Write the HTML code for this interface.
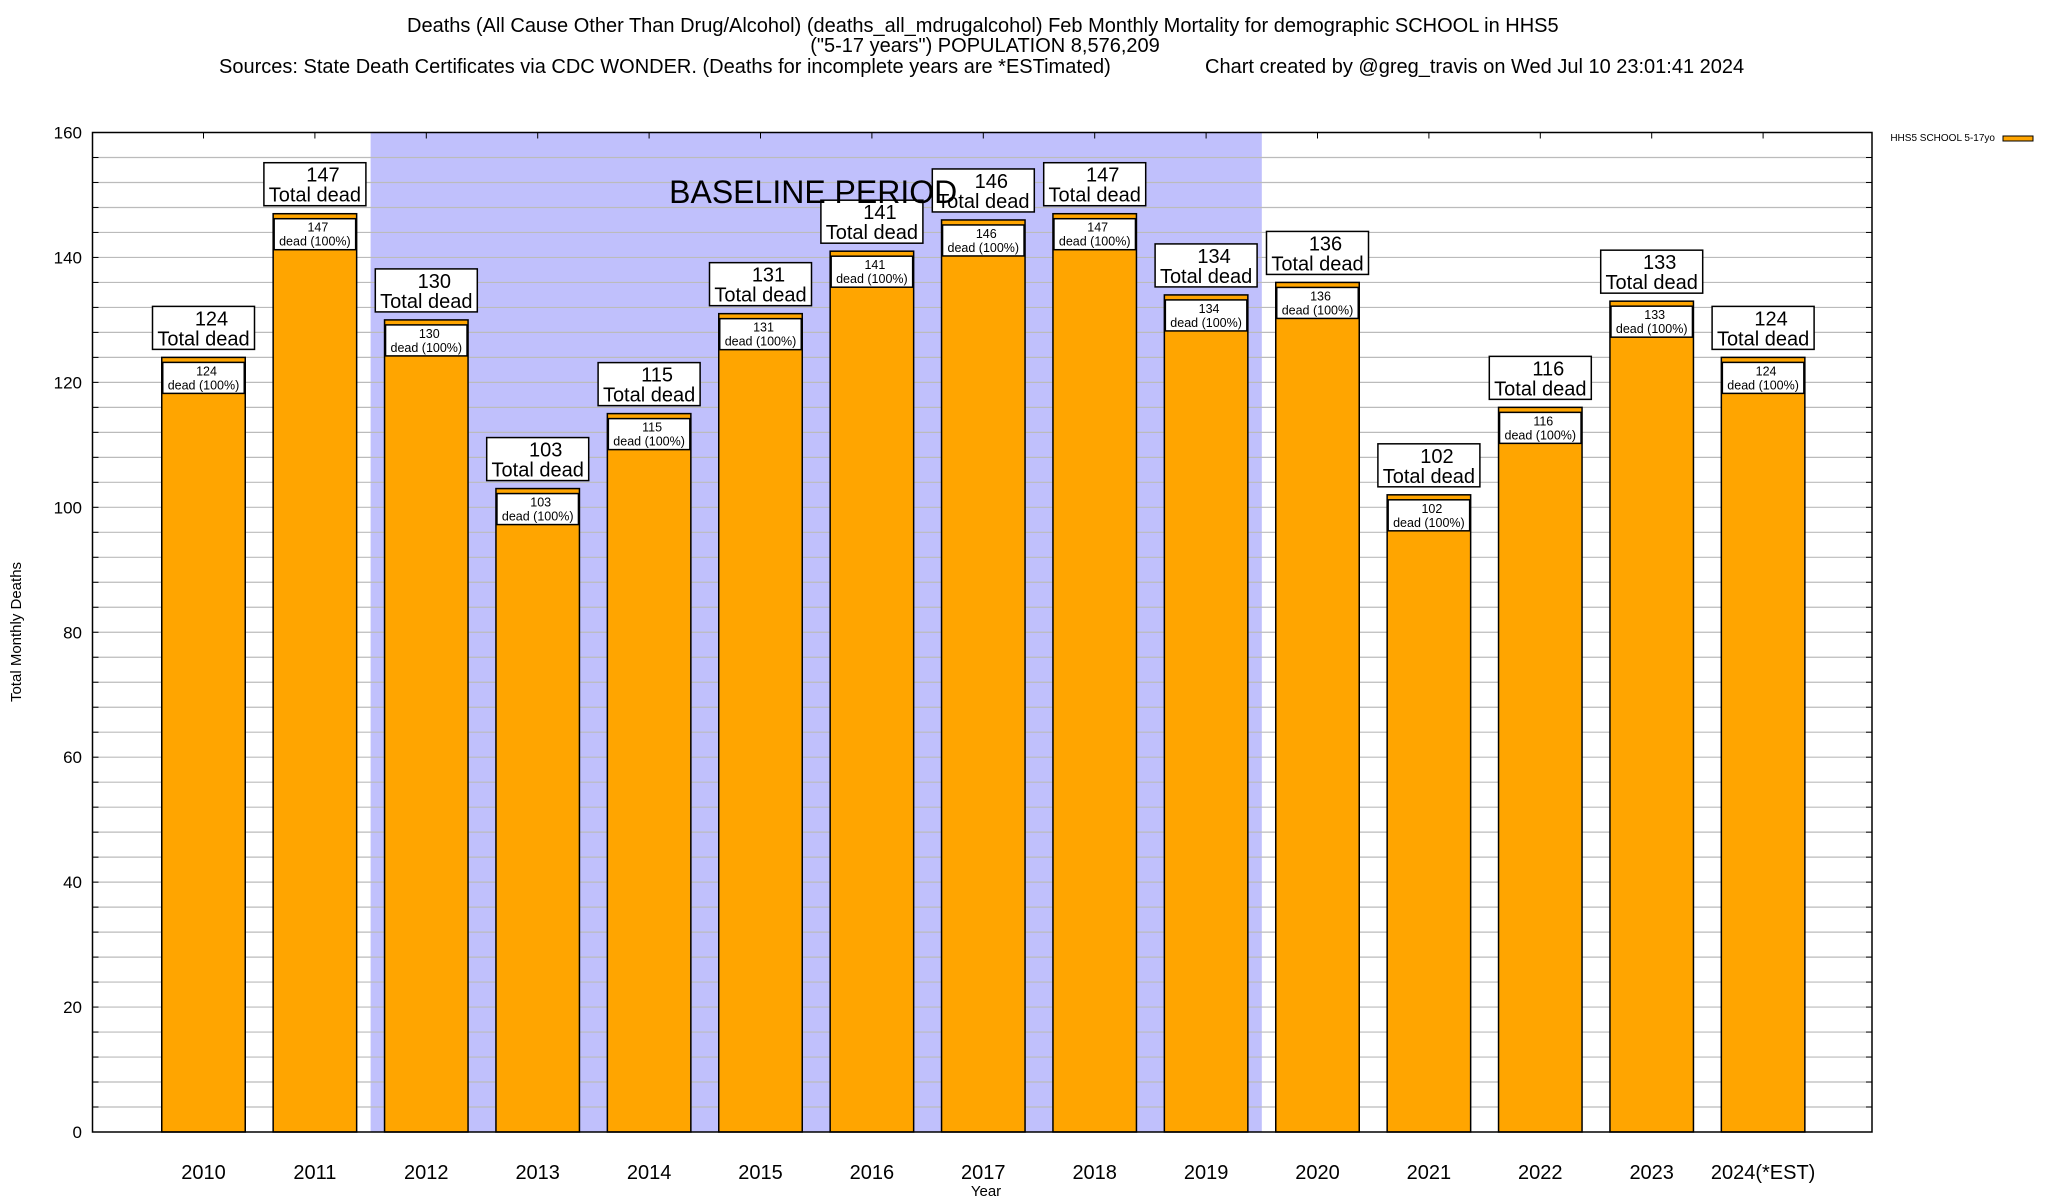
<!DOCTYPE html>
<html><head><meta charset="utf-8">
<style>
html,body{margin:0;padding:0;background:#fff;}
svg{display:block;font-family:"Liberation Sans",Arial,sans-serif;}
</style></head>
<body>
<svg id="chart" width="2048" height="1200" viewBox="0 0 2048 1200" xmlns="http://www.w3.org/2000/svg">
<g font-size="20" fill="#000">
<text x="407" y="32">Deaths (All Cause Other Than Drug/Alcohol) (deaths_all_mdrugalcohol) Feb Monthly Mortality for demographic SCHOOL in HHS5</text>
<text x="985" y="52" text-anchor="middle">("5-17 years") POPULATION 8,576,209</text>
<text x="219" y="73">Sources: State Death Certificates via CDC WONDER. (Deaths for incomplete years are *ESTimated)</text>
<text x="1205" y="73">Chart created by @greg_travis on Wed Jul 10 23:01:41 2024</text>
</g>
<g id="plot"></g>
<text font-size="15" transform="translate(21,632) rotate(-90)" text-anchor="middle">Total Monthly Deaths</text>
<text font-size="15" x="986" y="1196" text-anchor="middle">Year</text>
<g>
<text x="1995" y="141" font-size="10" text-anchor="end">HHS5 SCHOOL 5-17yo</text>
<rect x="2003" y="136" width="30" height="5" fill="#ffa500" stroke="#000" stroke-width="1"/>
</g>
</svg>
<script>
const categories = ["2010","2011","2012","2013","2014","2015","2016","2017","2018","2019","2020","2021","2022","2023","2024(*EST)"];
const deaths = [124,147,130,103,115,131,141,146,147,134,136,102,116,133,124];
const yTicks = [0,20,40,60,80,100,120,140,160];
const baselineStart = 1;
const baselineEnd = 9;

const NS = "http://www.w3.org/2000/svg";
const L = 92.5, R = 1872, T = 132.5, B = 1132;
const yMax = 160;
const x0 = 203.5, step = 111.4, barW = 83.5;
function xc(i){ return x0 + step * i; }
function y(v){ return B - (B - T) * v / yMax; }
function mk(tag, attrs, parent){
  const e = document.createElementNS(NS, tag);
  for (const k in attrs) e.setAttribute(k, attrs[k]);
  parent.appendChild(e);
  return e;
}
const plot = document.getElementById('plot');

const bg = mk('rect', {x:L, y:T, width:R-L, height:B-T, fill:'#fff'}, plot);



const shade = mk('rect', {x:xc(baselineStart)+step/2, y:T, width:(baselineEnd-baselineStart)*step, height:B-T, fill:'#c0c0fc'}, plot);



for (let v = 4; v < yMax; v += 4) {
  const g = mk('line', {x1:L, x2:R, y1:y(v), y2:y(v), stroke:'#bbbbbb', 'stroke-width':1.2}, plot);
  
  
  const t1 = mk('line', {x1:L, x2:L+6, y1:y(v), y2:y(v), stroke:'#000', 'stroke-width':1}, plot);
  
  
  const t2 = mk('line', {x1:R-6, x2:R, y1:y(v), y2:y(v), stroke:'#000', 'stroke-width':1}, plot);
  
  
}

yTicks.forEach(v => {
  const t = mk('text', {x:82, y:y(v)+6, 'font-size':17, 'text-anchor':'end'}, plot);
  
  
  t.textContent = v;
});

deaths.forEach((v, i) => {
  const cx = xc(i);
  const g = mk('g', {}, plot);
  
  
  mk('rect', {x:cx-barW/2, y:y(v), width:barW, height:B-y(v), fill:'#ffa500', stroke:'#000', 'stroke-width':1.5}, g);
  const ib = mk('rect', {x:cx-barW/2+1, y:y(v)+5, width:barW-2, height:31, fill:'#fff', stroke:'#000', 'stroke-width':1.5}, g);
  
  
  const it1 = mk('text', {x:cx+3, y:y(v)+18, 'font-size':12.5, 'text-anchor':'middle'}, g);
  
  
  it1.textContent = v;
  const it2 = mk('text', {x:cx, y:y(v)+32, 'font-size':12.5, 'text-anchor':'middle'}, g);
  
  
  it2.textContent = 'dead (100%)';
  const xt = mk('line', {x1:cx, x2:cx, y1:T, y2:T+6, stroke:'#000', 'stroke-width':1}, plot);
  
  
  const xl = mk('text', {x:cx, y:1179, 'font-size':20, 'text-anchor':'middle'}, plot);
  
  
  xl.textContent = categories[i];
});

deaths.forEach((v, i) => {
  const cx = xc(i);
  const g = mk('g', {}, plot);
  
  
  const top = y(v) - 8 - 43;
  mk('rect', {x:cx-51, y:top, width:102, height:43, fill:'#fff', stroke:'#000', 'stroke-width':1.5}, g);
  const a = mk('text', {x:cx+8, y:top+19, 'font-size':20, 'text-anchor':'middle'}, g);
  a.textContent = v;
  const b = mk('text', {x:cx, y:top+39, 'font-size':20, 'text-anchor':'middle'}, g);
  b.textContent = 'Total dead';
});

const bt = mk('text', {x:(xc(baselineStart)+step/2 + xc(baselineEnd)+step/2)/2 - 3, y:203, 'font-size':32, 'text-anchor':'middle'}, plot);


bt.textContent = 'BASELINE PERIOD';

const fr = mk('rect', {x:L, y:T, width:R-L, height:B-T, fill:'none', stroke:'#000', 'stroke-width':1.5}, plot);


</script>
</body></html>
